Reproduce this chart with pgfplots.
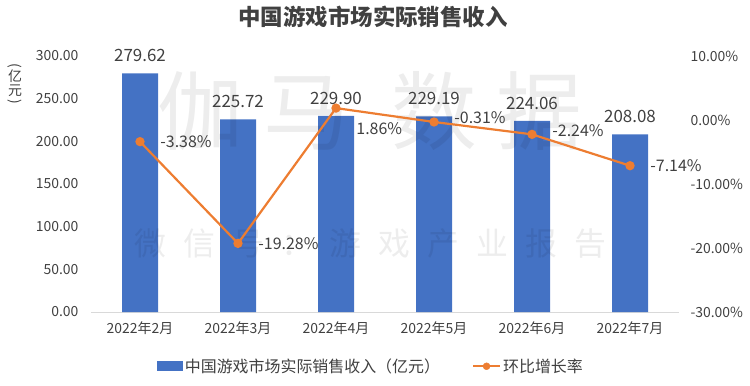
\documentclass[border=0pt]{standalone}
\usepackage{pgfplots}
\pgfplotsset{compat=1.18}
\usepackage{pgfplotstable}
\usepackage{fontspec}
\setmainfont{Noto Sans CJK SC}
\definecolor{barblue}{HTML}{4472C4}
\definecolor{lineorange}{HTML}{ED7D31}
\definecolor{txt}{HTML}{404040}
\definecolor{axisgray}{HTML}{D9D9D9}
\pgfplotstableread{
x val pct dy
0 279.62 -3.38 0
1 225.72 -19.28 0
2 229.90 1.86 -21
3 229.19 -0.31 4
4 224.06 -2.24 4
5 208.08 -7.14 0
}\datatab
\begin{document}
\begin{tikzpicture}
\path[use as bounding box] (-91bp,-74bp) rectangle (659bp,312bp);
\begin{axis}[
  at={(0,0)}, anchor=south west,
  scale only axis, width=588bp, height=256bp,
  xmin=-0.5, xmax=5.5, ymin=0, ymax=300,
  xtick=data,
  xticklabels={2022年2月,2022年3月,2022年4月,2022年5月,2022年6月,2022年7月},
  ytick={0,50,...,300},
  yticklabel={\pgfmathprintnumber[fixed, fixed zerofill, precision=2, assume math mode=true]{\tick}},
  axis y line*=left, axis x line*=bottom,
  y axis line style={draw=none},
  x axis line style={draw=axisgray, line width=0.8pt},
  major tick length=0pt,
  tick label style={font=\fontsize{14}{15}\selectfont, text=txt},
  xticklabel style={yshift=-6bp, font=\fontsize{14}{15}\selectfont},
  yticklabel style={xshift=-9bp},
  legend style={at={(0.476,-0.212)}, anchor=center, draw=none, legend columns=2,
    font=\fontsize{16}{17}\selectfont, text=txt,
    /tikz/every even column/.append style={column sep=30bp}},
  legend image code/.code={\draw[#1, draw=none] (0bp,-5bp) rectangle (26bp,5bp);},
  clip=false,
]
\addplot[ybar, bar width=36bp, fill=barblue, draw=none,
  nodes near coords={\pgfmathprintnumber[fixed, fixed zerofill, precision=2, assume math mode=true]{\pgfplotspointmeta}},
  nodes near coords style={font=\fontsize{17}{19}\selectfont, text=txt, anchor=south, yshift=8bp},
] table[x=x, y=val] {\datatab};
\addlegendentry{中国游戏市场实际销售收入（亿元）}
\addlegendimage{legend image code/.code={
  \draw[lineorange, line width=2.2pt] (0bp,0bp) -- (27bp,0bp);
  \fill[lineorange] (13.5bp,0bp) circle (3.5bp);}}
\addlegendentry{环比增长率}
% watermark
\node[text=black, opacity=0.07, font=\fontsize{86}{90}\selectfont] at (axis cs:2.35,235) {伽\hspace{20bp}马\hspace{42bp}数\hspace{20bp}据};
\node[text=black, opacity=0.07, font=\fontsize{32}{34}\selectfont] at (axis cs:2.35,80) {微\hspace{17bp}信\hspace{17bp}号\hspace{17bp}：\hspace{17bp}游\hspace{17bp}戏\hspace{17bp}产\hspace{17bp}业\hspace{17bp}报\hspace{17bp}告};
\end{axis}
\begin{axis}[
  at={(0,0)}, anchor=south west,
  scale only axis, width=588bp, height=256bp,
  xmin=-0.5, xmax=5.5, ymin=-30, ymax=10,
  ytick={-30,-20,...,10},
  axis y line*=right, axis x line=none,
  y axis line style={draw=none},
  major tick length=0pt,
  yticklabel={\pgfmathprintnumber[fixed, fixed zerofill, precision=2, assume math mode=true]{\tick}\%},
  tick label style={font=\fontsize{14}{15}\selectfont, text=txt},
  yticklabel style={xshift=8bp},
  clip=false,
]
\addplot[lineorange, line width=2.2pt, mark=*, mark size=3.5bp,
  mark options={fill=lineorange, draw=lineorange},
  visualization depends on={\thisrow{dy} \as \dy},
  nodes near coords={\pgfmathprintnumber[fixed, fixed zerofill, precision=2, assume math mode=true]{\pgfplotspointmeta}\%},
  nodes near coords style={font=\fontsize{16}{18}\selectfont, text=txt, anchor=west, xshift=16bp, yshift=\dy bp},
] table[x=x, y=pct, meta=pct] {\datatab};
\end{axis}
\node[text=txt, font=\fontsize{22.5}{24}\selectfont\bfseries] at (282bp,295bp) {中国游戏市场实际销售收入};
\node[text=txt, font=\fontsize{14}{15}\selectfont, rotate=-90, inner sep=0pt] at (-76bp,246bp) {(};
\node[text=txt, font=\fontsize{14}{15}\selectfont, inner sep=0pt] at (-76bp,236bp) {亿};
\node[text=txt, font=\fontsize{14}{15}\selectfont, inner sep=0pt] at (-76bp,221bp) {元};
\node[text=txt, font=\fontsize{14}{15}\selectfont, rotate=-90, inner sep=0pt] at (-76bp,210bp) {)};
\end{tikzpicture}
\end{document}
